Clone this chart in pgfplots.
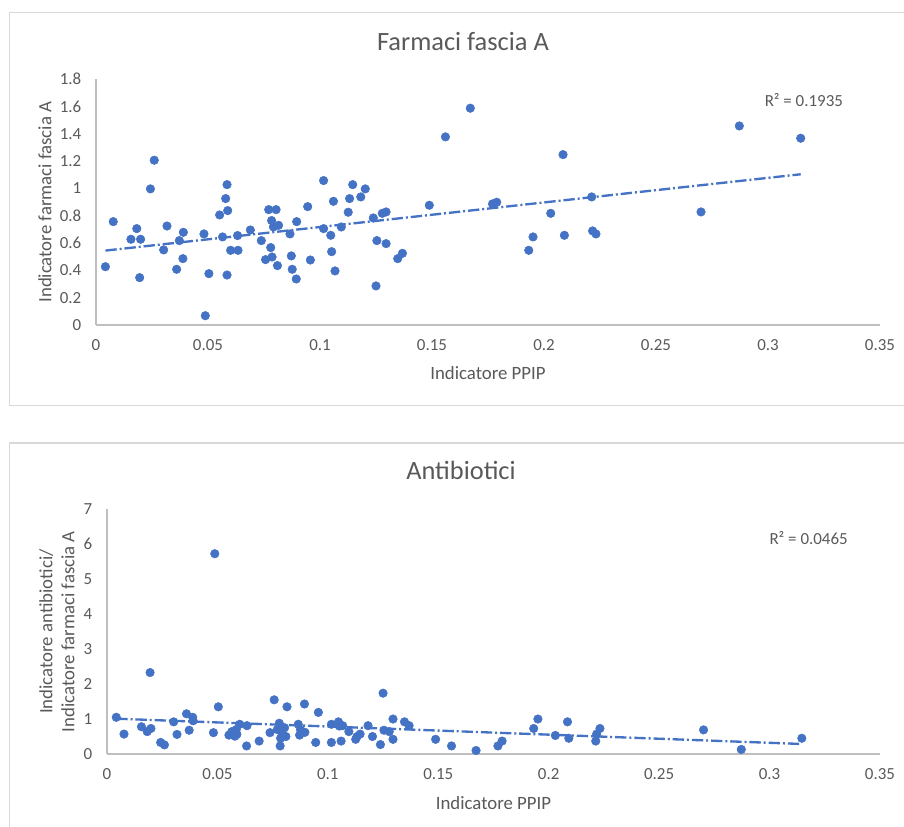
\documentclass[border=0pt]{standalone}
\usepackage{fontspec}
\setmainfont{Carlito}
\usepackage{pgfplots}
\pgfplotsset{compat=1.18}
\usepackage{pgfplotstable}

\definecolor{xlblue}{HTML}{4472C4}
\definecolor{xltext}{HTML}{595959}
\definecolor{xlaxis}{HTML}{BFBFBF}
\definecolor{xlbox}{HTML}{D9D9D9}

% PPIP indicator vs. farmaci fascia A
\pgfplotstableread{
x y
0.0042 0.427
0.0077 0.757
0.0156 0.628
0.0182 0.706
0.0195 0.347
0.0199 0.628
0.0243 0.997
0.0260 1.207
0.0302 0.550
0.0317 0.725
0.0360 0.408
0.0372 0.618
0.0388 0.486
0.0390 0.679
0.0482 0.667
0.0488 0.068
0.0504 0.376
0.0552 0.806
0.0565 0.645
0.0579 0.926
0.0585 1.028
0.0585 0.366
0.0588 0.838
0.0601 0.547
0.0632 0.655
0.0634 0.547
0.0689 0.696
0.0738 0.618
0.0757 0.479
0.0771 0.845
0.0780 0.567
0.0784 0.765
0.0786 0.498
0.0792 0.718
0.0804 0.845
0.0810 0.435
0.0815 0.730
0.0866 0.667
0.0872 0.506
0.0876 0.408
0.0894 0.337
0.0896 0.757
0.0945 0.867
0.0957 0.476
0.1016 1.058
0.1016 0.706
0.1048 0.657
0.1052 0.537
0.1060 0.906
0.1067 0.396
0.1095 0.718
0.1126 0.826
0.1132 0.926
0.1146 1.028
0.1182 0.938
0.1202 0.997
0.1238 0.784
0.1250 0.286
0.1254 0.618
0.1278 0.818
0.1295 0.828
0.1295 0.596
0.1347 0.486
0.1368 0.525
0.1488 0.877
0.1560 1.378
0.1671 1.588
0.1770 0.887
0.1789 0.899
0.1932 0.547
0.1951 0.645
0.2030 0.818
0.2085 1.248
0.2091 0.657
0.2213 0.938
0.2217 0.689
0.2232 0.667
0.2701 0.828
0.2872 1.458
0.3146 1.368
}\fasciaA

% PPIP indicator vs. antibiotici / fascia A
\pgfplotstableread{
x y
0.0042 1.05
0.0077 0.57
0.0156 0.78
0.0182 0.64
0.0195 2.33
0.0199 0.73
0.0243 0.33
0.0260 0.26
0.0302 0.92
0.0317 0.56
0.0360 1.15
0.0372 0.68
0.0388 1.05
0.0390 0.95
0.0482 0.61
0.0488 5.73
0.0504 1.35
0.0552 0.54
0.0565 0.64
0.0579 0.51
0.0585 0.60
0.0585 0.70
0.0588 0.56
0.0601 0.85
0.0632 0.23
0.0634 0.81
0.0689 0.37
0.0738 0.61
0.0757 1.55
0.0771 0.70
0.0780 0.88
0.0784 0.23
0.0786 0.45
0.0792 0.60
0.0804 0.75
0.0810 0.50
0.0815 1.35
0.0866 0.85
0.0872 0.54
0.0876 0.70
0.0894 1.43
0.0896 0.62
0.0945 0.33
0.0957 1.19
0.1016 0.33
0.1016 0.85
0.1048 0.92
0.1052 0.80
0.1060 0.37
0.1067 0.81
0.1095 0.64
0.1126 0.42
0.1132 0.50
0.1146 0.57
0.1182 0.81
0.1202 0.50
0.1238 0.27
0.1250 1.74
0.1254 0.68
0.1278 0.64
0.1295 0.42
0.1295 1.00
0.1347 0.92
0.1368 0.81
0.1488 0.42
0.1560 0.23
0.1671 0.10
0.1770 0.23
0.1789 0.37
0.1932 0.73
0.1951 1.00
0.2030 0.53
0.2085 0.92
0.2091 0.45
0.2213 0.37
0.2217 0.57
0.2232 0.73
0.2701 0.69
0.2872 0.13
0.3146 0.45
}\antibiotici

\pgfplotsset{
  xlscatter/.style={
    scale only axis,
    axis x line*=bottom, axis y line*=left,
    axis line style={xlaxis, line width=0.9pt, -},
    major tick length=0pt,
    tick align=outside,
    xmin=0, xmax=0.35,
    xtick={0,0.05,0.1,0.15,0.2,0.25,0.3,0.35},
    xticklabels={0,0.05,0.1,0.15,0.2,0.25,0.3,0.35},
    ticklabel style={font=\fontsize{12.7}{15}\selectfont, text=xltext},
    xticklabel style={yshift=-7pt},
    yticklabel style={xshift=-7.5pt},
    title style={font=\fontsize{19.8}{23}\selectfont, text=xltext, anchor=center},
    label style={font=\fontsize{14.1}{16.5}\selectfont, text=xltext},
    xlabel style={anchor=center, at={(axis description cs:0.5,-0.197)}},
    clip=false,
  },
  xlpts/.style={only marks, mark=*, mark size=3.2pt,
    mark options={draw=xlblue, fill=xlblue}},
  xltrend/.style={xlblue, line width=1.75pt,
    dash pattern=on 8.5pt off 2.2pt on 1.5pt off 2.2pt},
}

\begin{document}
\begin{tikzpicture}
\useasboundingbox (0,0) rectangle (678pt,620.25pt);
% chart frames
\draw[xlbox, line width=0.8pt] (678pt,610.7pt) -- (7.1pt,610.7pt) -- (7.1pt,315.8pt) -- (678pt,315.8pt);
\draw[xlbox, line width=0.8pt] (678pt,288pt) -- (7.1pt,288pt) -- (7.1pt,-2pt);

\begin{axis}[xlscatter,
  at={(72pt,376.5pt)}, anchor=south west,
  width=588pt, height=184.3pt,
  ymin=0, ymax=1.8,
  ytick={0,0.2,0.4,0.6,0.8,1,1.2,1.4,1.6,1.8},
  yticklabels={0,0.2,0.4,0.6,0.8,1,1.2,1.4,1.6,1.8},
  title={Farmaci fascia A},
  title style={at={(axis description cs:0.468,1.122)}},
  xlabel={Indicatore PPIP},
  ylabel={Indicatore farmaci fascia A},
  ylabel style={anchor=center, rotate=0, at={(axis description cs:-0.065,0.5)}},
]
\addplot[xlpts] table[x=x, y=y] {\fasciaA};
\addplot[xltrend] coordinates {(0.0042,0.545) (0.3146,1.104)};
\node[anchor=west, font=\fontsize{12.7}{15}\selectfont, text=xltext]
  at (axis description cs:0.847,0.916) {R² = 0.1935};
\end{axis}

\begin{axis}[xlscatter,
  at={(80.25pt,54.75pt)}, anchor=south west,
  width=579.75pt, height=183.5pt,
  ymin=0, ymax=7,
  ytick={0,1,2,3,4,5,6,7},
  yticklabels={0,1,2,3,4,5,6,7},
  title={Antibiotici},
  title style={at={(axis description cs:0.458,1.128)}},
  xlabel={Indicatore PPIP},
  xlabel style={at={(axis description cs:0.5,-0.200)}},
  ylabel={Indicatore antibiotici/\\Indicatore farmaci fascia A},
  ylabel style={anchor=center, align=center, at={(axis description cs:-0.0647,0.5)}},
]
\addplot[xlpts] table[x=x, y=y] {\antibiotici};
\addplot[xltrend] coordinates {(0.0042,1.01) (0.3146,0.286)};
\node[anchor=west, font=\fontsize{12.7}{15}\selectfont, text=xltext]
  at (axis description cs:0.851,0.881) {R² = 0.0465};
\end{axis}
\end{tikzpicture}
\end{document}
